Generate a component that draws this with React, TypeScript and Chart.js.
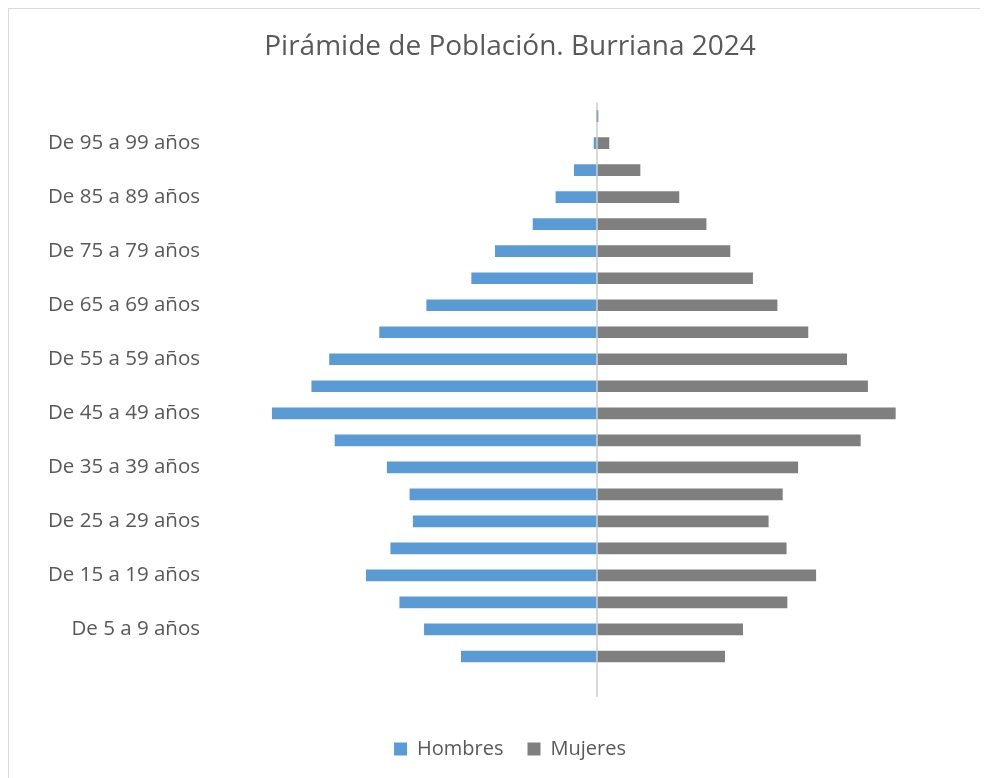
import React, { useEffect, useRef } from "react";
import { Chart, registerables } from "chart.js";

Chart.register(...registerables);

const categories = [
  "De 0 a 4 años", "De 5 a 9 años", "De 10 a 14 años", "De 15 a 19 años",
  "De 20 a 24 años", "De 25 a 29 años", "De 30 a 34 años", "De 35 a 39 años",
  "De 40 a 44 años", "De 45 a 49 años", "De 50 a 54 años", "De 55 a 59 años",
  "De 60 a 64 años", "De 65 a 69 años", "De 70 a 74 años", "De 75 a 79 años",
  "De 80 a 84 años", "De 85 a 89 años", "De 90 a 94 años", "De 95 a 99 años",
  "De 100 y más años",
];

const hombres = [694, 883, 1009, 1180, 1055, 940, 957, 1073, 1340, 1661, 1459, 1368, 1112, 871, 641, 520, 327, 210, 116, 15, 0];
const mujeres = [653, 745, 972, 1119, 968, 876, 948, 1027, 1347, 1526, 1384, 1277, 1079, 921, 796, 680, 558, 419, 220, 61, 4];

const titleText = "Pirámide de Población. Burriana 2024";
const axisMax = 2000;

export default function App() {
  const ref = useRef<HTMLCanvasElement | null>(null);
  useEffect(() => {
    if (!ref.current) return;
    const labels = ["", ...categories];
    const chart = new Chart(ref.current, {
      type: "bar",
      data: {
        labels,
        datasets: [
          {
            label: "Hombres",
            data: [null, ...hombres.map((v) => -v)],
            backgroundColor: "#5B9BD5",
            borderWidth: 0,
            barThickness: 11,
          },
          {
            label: "Mujeres",
            data: [null, ...mujeres],
            backgroundColor: "#7F7F7F",
            borderWidth: 0,
            barThickness: 11,
          },
        ],
      },
      options: {
        indexAxis: "y",
        responsive: false,
        animation: false,
        layout: { padding: { left: 23, right: 0, top: 0, bottom: 9 } },
        plugins: {
          title: {
            display: true,
            text: titleText,
            color: "#595959",
            font: { family: "'Open Sans'", size: 28, weight: "normal" },
            padding: { top: 21, bottom: 39 },
          },
          legend: {
            position: "bottom",
            labels: {
              color: "#595959",
              font: { family: "'Open Sans'", size: 20 },
              boxWidth: 13,
              boxHeight: 13,
              padding: 24,
            },
          },
          tooltip: { enabled: false },
        },
        scales: {
          x: {
            stacked: true,
            min: -axisMax,
            max: axisMax,
            ticks: { display: false },
            border: { display: false },
            grid: {
              drawTicks: false,
              color: (ctx: any) => (ctx.tick && ctx.tick.value === 0 ? "#d9d9d9" : "rgba(0,0,0,0)"),
              lineWidth: (ctx: any) => (ctx.tick && ctx.tick.value === 0 ? 2 : 0),
            },
            afterFit: (scale: any) => {
              scale.height = 18;
            },
          },
          y: {
            stacked: true,
            reverse: true,
            border: { display: false },
            grid: { display: false, drawTicks: false },
            ticks: {
              autoSkip: false,
              padding: 6,
              color: "#595959",
              font: { family: "'Open Sans'", size: 20.5 },
              callback: function (this: any, value: any, index: number) {
                return index % 2 === 0 ? this.getLabelForValue(value) : "";
              },
            },
            afterFit: (scale: any) => {
              scale.width = 174;
            },
          },
        },
      },
    });
    return () => chart.destroy();
  }, []);

  return (
    <div
      style={{
        borderLeft: "1px solid #d9d9d9",
        borderTop: "1px solid #d9d9d9",
        width: 979,
        height: 769,
        background: "#ffffff",
      }}
    >
      <canvas ref={ref} width={979} height={769} style={{ display: "block" }} />
    </div>
  );
}
